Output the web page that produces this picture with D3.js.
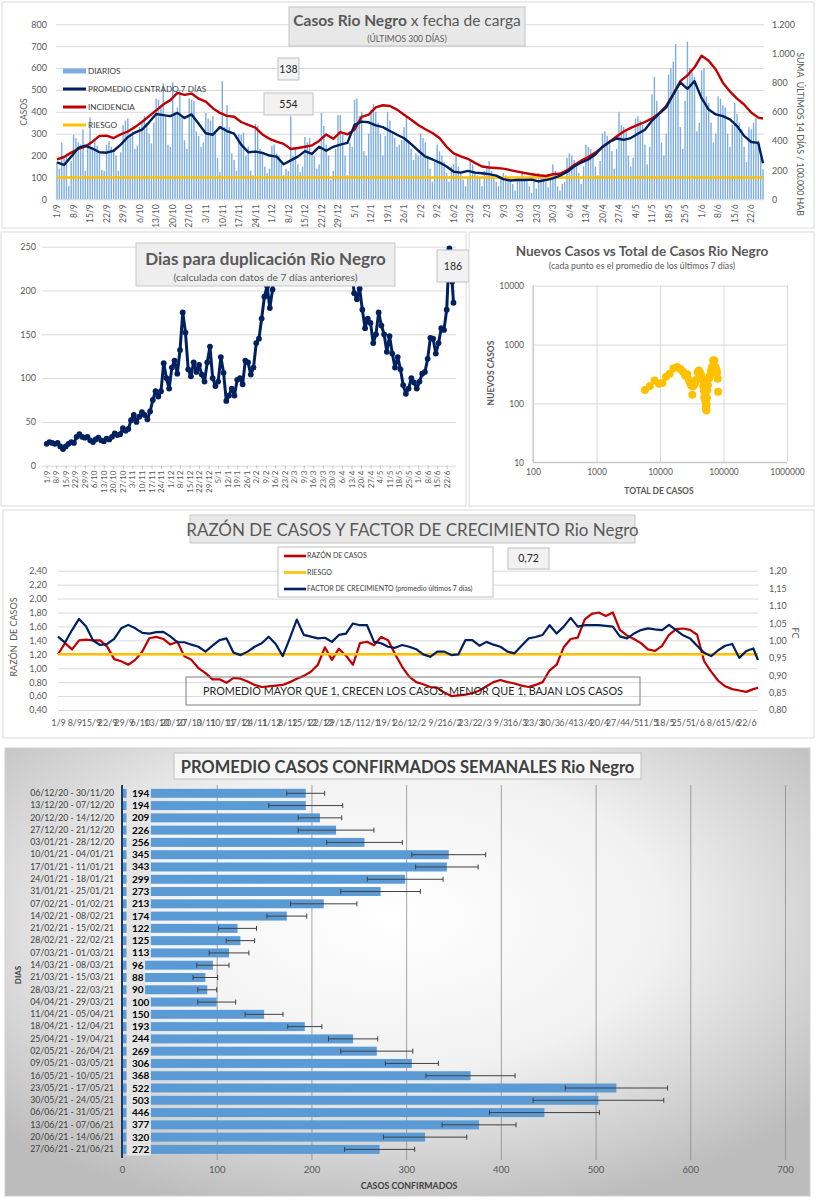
<!DOCTYPE html>
<html>
<head>
<meta charset="utf-8">
<script src="https://cdn.jsdelivr.net/npm/d3@7"></script>
<style>
  body { margin: 0; background: #fff; }
  svg { display: block; font-family: Lato, 'Open Sans', sans-serif; }
</style>
</head>
<body>
<svg id="chart" width="816" height="1200"></svg>
<script>
// etiquetas semanales del eje x (una cada 7 dias desde 1/9/2020)
var weekLabels = ['1/9','8/9','15/9','22/9','29/9','6/10','13/10','20/10','27/10','3/11','10/11','17/11','24/11',
  '1/12','8/12','15/12','22/12','29/12','5/1','12/1','19/1','26/1','2/2','9/2','16/2','23/2','2/3','9/3','16/3',
  '23/3','30/3','6/4','13/4','20/4','27/4','4/5','11/5','18/5','25/5','1/6','8/6','15/6','22/6'];

// casos diarios (300 dias, 1/9/2020 - 27/6/2021)
var dailyCases = [
  170,140,260,185,210,60,175, 295,280,260,250,320,130,240, 375,240,270,245,210,135,130,
  250,265,240,230,200,130,215, 340,360,370,300,310,230,245, 330,360,380,350,300,255,350,
  460,455,420,530,380,250,240, 535,400,420,500,380,270,230, 460,455,450,310,290,240,260,
  395,370,360,380,310,190,125, 540,330,430,330,210,180,130, 300,295,305,200,240,130,110,
  345,335,230,210,150,120,140, 245,250,210,200,170,110,140, 130,380,200,230,160,125,150,
  285,260,280,210,200,140,160, 395,335,250,200,90,130,230, 385,385,300,200,110,260,240,
  455,460,380,400,220,200,300, 410,435,400,350,300,200,290, 400,360,300,280,240,250,270,
  330,380,270,230,180,210,200, 300,280,260,200,140,80,170, 250,220,200,170,120,80,150,
  160,200,150,120,90,60,100, 180,160,130,110,100,60,130, 150,175,130,100,80,60,95,
  120,110,100,95,70,40,95, 100,120,95,90,60,30,110, 50,120,110,100,80,55,95,
  160,130,60,40,70,80,190, 210,200,180,160,120,70,150, 250,240,230,200,150,110,175,
  300,310,290,260,220,140,230, 400,340,330,310,200,150,190, 370,380,360,340,250,160,240,
  480,560,450,380,260,200,300, 570,600,630,710,500,330,230, 450,720,600,580,560,310,350,
  590,600,470,440,350,260,300, 470,460,430,420,300,240,340, 440,390,350,320,240,170,330,
  320,350,370,270,190,138];

// promedio centrado 7 dias, un valor cada 3 dias (el ultimo es 27/6)
var avgCases = [169,157,195,235,245,232,215,213,222,250, 285,305,318,352,390,385,380,395,372,388,
  345,302,295,330,312,300,250,215,218,212, 200,195,160,178,195,220,208,240,222,240,
  250,258,340,355,352,338,330,312,295,279, 252,222,195,182,168,150,126,122,130,122,
  119,115,108,92,86,88,88,90,82,88, 96,108,125,150,168,182,205,240,262,278,
  272,280,300,318,360,390,420,480,535,505, 540,462,410,388,380,365,335,290,262,258, 165];

// incidencia: suma ultimos 14 dias / 100.000 hab, un valor cada 3 dias
var incidence = [274,290,320,345,362,395,435,436,420,445, 465,495,530,570,610,650,680,730,716,725,
  690,670,625,592,572,566,530,510,492,445, 415,395,380,345,352,360,370,400,445,415,
  460,445,478,565,580,630,645,640,615,580, 545,510,480,455,420,360,315,295,278,250,
  225,218,215,210,200,190,180,172,165,160, 172,175,198,235,265,290,320,358,395,430,
  465,490,510,530,555,590,640,720,810,850, 905,985,950,890,800,740,690,650,595,560, 554];
var riesgoIncidencia = 150;

// dias para duplicacion, un valor cada 2 dias
var dupDays = [25,27,26,25,26,22,19,22,25,27, 26,33,36,33,32,33,29,27,30,32,
  29,28,31,30,33,37,35,36,43,40, 42,52,58,50,56,61,58,53,62,75,
  85,79,85,117,100,88,112,120,105,132, 175,152,110,102,118,107,115,104,96,118,
  136,100,91,96,124,106,74,80,88,80, 98,100,93,120,118,104,112,140,145,168,
  193,205,180,201,240,280,320,360,390,420, 450,480,500,530,560,580,600,620,640,650,
  660,640,620,590,550,500,450,400,350,310, 280,250,225,197,190,202,178,157,168,163,
  140,150,175,160,150,130,148,128,112,124, 110,92,82,88,100,95,88,96,105,107,
  122,146,145,128,140,157,155,178,248,210, 186];

// nuevos casos (promedio 7 dias) vs total acumulado, un punto cada 6 dias
var scatterTotal = [5800,6890,8210,9590,10900,12420,14220,16350,18660,20910, 23060,24980,26800,28490,29890,31140,32220,33290,34490,35780,
  37200,38970,41040,43090,44960,46600,47940,49020,49910,50670, 51420,52100,52680,53200,53710,54240,54900,55780,56900,58290,
  59900,61610,63590,65930,68790,72020,74870,77240,79380,81170, 82230];
var scatterNew = [169,195,245,215,222,285,318,395,415,385, 345,295,312,250,218,200,140,195,208,222,
  250,340,362,330,295,252,195,168,126,130, 119,108,86,80,76,96,125,168,205,262,
  272,300,360,420,540,535,410,380,335,262, 158];

// razon de casos y factor de crecimiento, un valor cada 3 dias
var razon = [1.20,1.36,1.27,1.40,1.41,1.40,1.40,1.31,1.13,1.10, 1.05,1.12,1.24,1.43,1.45,1.42,1.34,1.38,1.17,1.12,
  1.00,0.93,0.84,0.84,0.79,0.86,0.85,0.81,0.76,0.73, 0.74,0.75,0.76,0.80,0.85,0.89,0.95,1.05,1.30,1.12,
  1.28,1.18,1.05,1.36,1.38,1.33,1.45,1.40,1.20,1.02, 0.88,0.80,0.77,0.73,0.72,0.65,0.60,0.61,0.62,0.64,
  0.68,0.74,0.80,0.83,0.80,0.78,0.75,0.73,0.76,0.80, 0.97,1.05,1.30,1.42,1.44,1.70,1.78,1.80,1.75,1.80,
  1.55,1.47,1.42,1.36,1.27,1.25,1.32,1.48,1.56,1.57, 1.55,1.48,1.10,0.95,0.82,0.74,0.70,0.68,0.66,0.70, 0.72];
var factor = [1.011,0.994,1.030,1.062,1.040,1.000,0.987,0.990,1.005,1.035, 1.045,1.035,1.022,1.020,1.024,1.025,1.012,0.995,0.995,0.988,
  0.982,0.968,0.985,1.001,1.006,0.965,0.958,0.968,0.982,0.992, 1.011,0.990,0.955,1.006,1.060,1.016,1.011,1.006,1.008,0.996,
  1.016,1.020,1.049,1.044,1.044,0.996,0.992,0.982,0.979,0.987, 0.982,0.975,0.960,0.953,0.968,0.968,0.958,0.960,1.001,1.001,
  0.985,0.996,0.988,0.982,0.968,0.963,0.985,1.006,1.010,1.016, 1.044,1.020,1.040,1.065,1.040,1.044,1.044,1.044,1.042,1.040,
  1.012,1.006,1.020,1.030,1.035,1.032,1.030,1.045,1.030,1.015, 1.006,0.985,0.965,0.955,0.972,0.985,0.990,0.950,0.970,0.977, 0.944];
var riesgoRazon = 1.2;

// promedio semanal de casos confirmados
var weekRanges = ['06/12/20 - 30/11/20','13/12/20 - 07/12/20','20/12/20 - 14/12/20','27/12/20 - 21/12/20',
  '03/01/21 - 28/12/20','10/01/21 - 04/01/21','17/01/21 - 11/01/21','24/01/21 - 18/01/21','31/01/21 - 25/01/21',
  '07/02/21 - 01/02/21','14/02/21 - 08/02/21','21/02/21 - 15/02/21','28/02/21 - 22/02/21','07/03/21 - 01/03/21',
  '14/03/21 - 08/03/21','21/03/21 - 15/03/21','28/03/21 - 22/03/21','04/04/21 - 29/03/21','11/04/21 - 05/04/21',
  '18/04/21 - 12/04/21','25/04/21 - 19/04/21','02/05/21 - 26/04/21','09/05/21 - 03/05/21','16/05/21 - 10/05/21',
  '23/05/21 - 17/05/21','30/05/21 - 24/05/21','06/06/21 - 31/05/21','13/06/21 - 07/06/21','20/06/21 - 14/06/21',
  '27/06/21 - 21/06/21'];
var weekAvg = [194,194,209,226,256,345,343,299,273,213,174,122,125,113,96,88,90,100,150,193,244,269,306,368,522,503,446,377,320,272];
var weekErr = [20,39,23,40,40,39,33,40,42,35,21,20,15,21,17,13,10,20,20,18,26,38,28,47,54,69,58,39,44,37];

var lastDay = dailyCases.length - 1;
function stepDay(i, step) { return Math.min(i * step, lastDay); }
var tickDays = weekLabels.map(function(d, i) { return i * 7; });

var loc = d3.formatLocale({ decimal: ',', thousands: '.', grouping: [3], currency: ['$', ''] });
var fmtMiles = loc.format(',d');
var fmtDec = loc.format('.2f');

var gray = '#595959';
var navy = '#002060';
var red = '#c00000';
var yellow = '#ffc000';

var svg = d3.select('#chart');
var defs = svg.append('defs');

function styleAxis(g, size, color) {
  g.attr('font-family', null).attr('font-size', size).style('color', color);
  g.select('.domain').remove();
}
function grid(g, color) {
  g.select('.domain').remove();
  g.style('color', color);
}
function rotateTicks(g, off) {
  g.selectAll('text').attr('y', 0).attr('x', -off).attr('dy', '0.32em')
    .attr('transform', 'rotate(-90)').attr('text-anchor', 'end');
}
function frame(x, y, w, h) {
  return svg.append('rect').attr('x', x).attr('y', y).attr('width', w).attr('height', h)
    .attr('fill', '#fff').attr('stroke', '#d9d9d9');
}
function valueBox(x, y, w, h, txt) {
  svg.append('rect').attr('x', x).attr('y', y).attr('width', w).attr('height', h)
    .attr('fill', '#f2f2f2').attr('stroke', '#bfbfbf');
  svg.append('text').attr('x', x + w / 2).attr('y', y + h / 2).attr('dy', '0.35em')
    .attr('text-anchor', 'middle').attr('font-size', 10.5).attr('fill', '#262626').text(txt);
}

// ================= 1. casos diarios =================
frame(2, 2, 812, 226);

var x1 = d3.scaleLinear().domain([0, lastDay]).range([57, 763]);
var y1 = d3.scaleLinear().domain([0, 800]).range([199.3, 24.3]);
var y1r = d3.scaleLinear().domain([0, 1200]).range([199.3, 24.3]);

svg.append('g').attr('transform', 'translate(56,0)')
  .call(d3.axisLeft(y1).tickValues(d3.range(0, 801, 100)).tickSize(-708).tickFormat(''))
  .call(function(g) { grid(g, '#d9d9d9'); });

svg.append('g').attr('transform', 'translate(47,0)')
  .call(d3.axisLeft(y1).tickValues(d3.range(0, 801, 100)).tickSize(0).tickPadding(0))
  .call(function(g) { styleAxis(g, 9, gray); });

svg.append('g').attr('transform', 'translate(772,0)')
  .call(d3.axisRight(y1r).tickValues(d3.range(0, 1201, 200)).tickFormat(fmtMiles).tickSize(0).tickPadding(0))
  .call(function(g) { styleAxis(g, 9, gray); });

svg.append('g').attr('transform', 'translate(0,199.3)')
  .call(d3.axisBottom(x1).tickValues(tickDays).tickFormat(function(d, i) { return weekLabels[i]; }).tickSize(0))
  .call(function(g) { styleAxis(g, 8.5, gray); rotateTicks(g, 5); });

svg.append('g').selectAll('rect').data(dailyCases).enter().append('rect')
  .attr('x', function(d, i) { return x1(i) - 0.7; })
  .attr('width', 1.4)
  .attr('y', function(d) { return y1(d); })
  .attr('height', function(d) { return y1(0) - y1(d); })
  .attr('fill', '#7eaee0');

svg.append('line').attr('x1', x1(0)).attr('x2', x1(lastDay))
  .attr('y1', y1r(riesgoIncidencia)).attr('y2', y1r(riesgoIncidencia))
  .attr('stroke', yellow).attr('stroke-width', 2.6);

svg.append('path').datum(incidence)
  .attr('d', d3.line().x(function(d, i) { return x1(stepDay(i, 3)); }).y(function(d) { return y1r(d); }))
  .attr('fill', 'none').attr('stroke', red).attr('stroke-width', 2.4).attr('stroke-linejoin', 'round');

svg.append('path').datum(avgCases)
  .attr('d', d3.line().x(function(d, i) { return x1(stepDay(i, 3)); }).y(function(d) { return y1(d); }))
  .attr('fill', 'none').attr('stroke', navy).attr('stroke-width', 2.4).attr('stroke-linejoin', 'round');

var legend1 = [
  { name: 'DIARIOS', color: '#7eaee0', bar: true },
  { name: 'PROMEDIO CENTRADO 7 DÍAS', color: navy },
  { name: 'INCIDENCIA', color: red },
  { name: 'RIESGO', color: yellow }
];
var lg1 = svg.append('g').selectAll('g').data(legend1).enter().append('g')
  .attr('transform', function(d, i) { return 'translate(63,' + (71 + i * 18) + ')'; });
lg1.append('rect').attr('x', 0).attr('width', 23)
  .attr('y', function(d) { return d.bar ? -2.5 : -1.5; })
  .attr('height', function(d) { return d.bar ? 5 : 3; })
  .attr('fill', function(d) { return d.color; });
lg1.append('text').attr('x', 25).attr('dy', '0.35em').attr('font-size', 8.2).attr('fill', '#404040')
  .text(function(d) { return d.name; });

svg.append('text').attr('transform', 'translate(27,112) rotate(-90)').attr('text-anchor', 'middle')
  .attr('font-size', 8.5).attr('fill', gray).text('CASOS');
svg.append('text').attr('transform', 'translate(800,134) rotate(90)').attr('text-anchor', 'middle')
  .attr('dy', '0.35em').attr('font-size', 8.8).attr('fill', gray).attr('xml:space', 'preserve')
  .text('SUMA  ÚLTIMOS 14 DÍAS / 100.000 HAB');

svg.append('rect').attr('x', 289).attr('y', 7).attr('width', 236).attr('height', 39)
  .attr('fill', '#e8e8e8').attr('stroke', '#c4c4c4');
var t1 = svg.append('text').attr('x', 407).attr('y', 26).attr('text-anchor', 'middle')
  .attr('font-size', 15.5).attr('fill', gray);
t1.append('tspan').attr('font-weight', 'bold').text('Casos Rio Negro');
t1.append('tspan').text(' x fecha de carga');
svg.append('text').attr('x', 407).attr('y', 41.5).attr('text-anchor', 'middle')
  .attr('font-size', 8.5).attr('fill', gray).text('(ÚLTIMOS 300 DÍAS)');

valueBox(278, 58, 21, 22, dailyCases[lastDay]);
valueBox(264, 93, 49, 22, incidence[incidence.length - 1]);

// ================= 2. dias para duplicacion =================
frame(1, 232, 465, 274);

var x2 = d3.scaleLinear().domain([0, 294]).range([46.7, 446.7]);
var y2 = d3.scaleLinear().domain([0, 250]).range([465.7, 246.7]);

svg.append('g').attr('transform', 'translate(42,0)')
  .call(d3.axisLeft(y2).tickValues(d3.range(0, 251, 50)).tickSize(-414).tickFormat(''))
  .call(function(g) { grid(g, '#d9d9d9'); });

svg.append('g').attr('transform', 'translate(36,0)')
  .call(d3.axisLeft(y2).tickValues(d3.range(0, 251, 50)).tickSize(0).tickPadding(0))
  .call(function(g) { styleAxis(g, 9, gray); });

svg.append('g').attr('transform', 'translate(0,465.7)')
  .call(d3.axisBottom(x2).tickValues(tickDays).tickFormat(function(d, i) { return weekLabels[i]; }).tickSize(3))
  .call(function(g) {
    styleAxis(g, 8, gray);
    g.selectAll('line').attr('stroke', '#bfbfbf');
    rotateTicks(g, 5);
  });

defs.append('clipPath').attr('id', 'clip2').append('rect')
  .attr('x', 40).attr('y', 244).attr('width', 425).attr('height', 230);

var dupG = svg.append('g').attr('clip-path', 'url(#clip2)');
dupG.append('path').datum(dupDays)
  .attr('d', d3.line().x(function(d, i) { return x2(stepDay(i, 2)); }).y(function(d) { return y2(d); }))
  .attr('fill', 'none').attr('stroke', navy).attr('stroke-width', 3).attr('stroke-linejoin', 'round');
dupG.selectAll('circle').data(dupDays).enter().append('circle')
  .attr('cx', function(d, i) { return x2(stepDay(i, 2)); })
  .attr('cy', function(d) { return y2(d); })
  .attr('r', 2.9).attr('fill', navy);

svg.append('rect').attr('x', 136).attr('y', 243).attr('width', 259).attr('height', 43)
  .attr('fill', '#eeeeee').attr('stroke', '#c8c8c8');
svg.append('text').attr('x', 265.5).attr('y', 264.5).attr('text-anchor', 'middle')
  .attr('font-size', 17).attr('font-weight', 'bold').attr('fill', gray).text('Dias para duplicación Rio Negro');
svg.append('text').attr('x', 265.5).attr('y', 281).attr('text-anchor', 'middle')
  .attr('font-size', 10.3).attr('fill', gray).text('(calculada con datos de 7 días anteriores)');

valueBox(437, 250, 32, 32, dupDays[dupDays.length - 1]);

// ================= 3. nuevos vs total =================
frame(469, 232, 345, 274);

var x3 = d3.scaleLog().domain([100, 1e6]).range([533, 787]);
var y3 = d3.scaleLog().domain([10, 1e4]).range([462.3, 285.7]);
var xDec = [100, 1000, 10000, 100000, 1000000];
var yDec = [10, 100, 1000, 10000];

svg.append('g').attr('transform', 'translate(533,0)')
  .call(d3.axisLeft(y3).tickValues(yDec).tickSize(-254).tickFormat(''))
  .call(function(g) { grid(g, '#d9d9d9'); });
svg.append('g').attr('transform', 'translate(0,285.7)')
  .call(d3.axisBottom(x3).tickValues(xDec).tickSize(176.6).tickFormat(''))
  .call(function(g) { grid(g, '#d9d9d9'); });
svg.append('line').attr('x1', 533).attr('x2', 787).attr('y1', 462.3).attr('y2', 462.3).attr('stroke', '#bfbfbf');
svg.append('line').attr('x1', 533).attr('x2', 533).attr('y1', 285.7).attr('y2', 462.3).attr('stroke', '#bfbfbf');

svg.append('g').attr('transform', 'translate(524,0)')
  .call(d3.axisLeft(y3).tickValues(yDec).tickFormat(d3.format('d')).tickSize(0).tickPadding(0))
  .call(function(g) { styleAxis(g, 8.5, gray); });
svg.append('g').attr('transform', 'translate(0,469)')
  .call(d3.axisBottom(x3).tickValues(xDec).tickFormat(d3.format('d')).tickSize(0).tickPadding(0))
  .call(function(g) { styleAxis(g, 8.5, gray); });

svg.append('g').selectAll('circle').data(scatterNew).enter().append('circle')
  .attr('cx', function(d, i) { return x3(scatterTotal[i]); })
  .attr('cy', function(d) { return y3(d); })
  .attr('r', 4).attr('fill', yellow);

svg.append('text').attr('x', 642).attr('y', 256).attr('text-anchor', 'middle')
  .attr('font-size', 13.5).attr('font-weight', 'bold').attr('fill', gray).text('Nuevos Casos vs Total de Casos Rio Negro');
svg.append('text').attr('x', 642).attr('y', 269).attr('text-anchor', 'middle')
  .attr('font-size', 8.8).attr('fill', gray).text('(cada punto es el promedio de los últimos 7 días)');
svg.append('text').attr('transform', 'translate(494,373) rotate(-90)').attr('text-anchor', 'middle')
  .attr('font-size', 8.5).attr('font-weight', 'bold').attr('fill', gray).text('NUEVOS  CASOS');
svg.append('text').attr('x', 659).attr('y', 494).attr('text-anchor', 'middle')
  .attr('font-size', 8.5).attr('font-weight', 'bold').attr('fill', gray).text('TOTAL DE CASOS');

// ================= 4. razon de casos y factor de crecimiento =================
frame(3, 510, 811, 228);

var x4 = d3.scaleLinear().domain([0, lastDay]).range([58, 758]);
var y4 = d3.scaleLinear().domain([0.4, 2.4]).range([710, 570.7]);
var y4r = d3.scaleLinear().domain([0.8, 1.2]).range([710, 571]);

svg.append('g').attr('transform', 'translate(58,0)')
  .call(d3.axisLeft(y4).tickValues(d3.range(0, 11).map(function(i) { return 0.4 + i * 0.2; })).tickSize(-700).tickFormat(''))
  .call(function(g) { grid(g, '#d9d9d9'); });

svg.append('g').attr('transform', 'translate(47,0)')
  .call(d3.axisLeft(y4).tickValues(d3.range(0, 11).map(function(i) { return 0.4 + i * 0.2; })).tickFormat(fmtDec).tickSize(0).tickPadding(0))
  .call(function(g) { styleAxis(g, 9, gray); });
svg.append('g').attr('transform', 'translate(769,0)')
  .call(d3.axisRight(y4r).tickValues(d3.range(0, 9).map(function(i) { return 0.8 + i * 0.05; })).tickFormat(fmtDec).tickSize(0).tickPadding(0))
  .call(function(g) { styleAxis(g, 9, gray); });

svg.append('g').attr('transform', 'translate(0,719.5)')
  .call(d3.axisBottom(x4).tickValues(tickDays).tickFormat(function(d, i) { return weekLabels[i]; }).tickSize(0).tickPadding(0))
  .call(function(g) { styleAxis(g, 9, gray); });

svg.append('path').datum(razon)
  .attr('d', d3.line().x(function(d, i) { return x4(stepDay(i, 3)); }).y(function(d) { return y4(d); }))
  .attr('fill', 'none').attr('stroke', red).attr('stroke-width', 2.2).attr('stroke-linejoin', 'round');
svg.append('line').attr('x1', x4(0)).attr('x2', x4(lastDay))
  .attr('y1', y4(riesgoRazon)).attr('y2', y4(riesgoRazon))
  .attr('stroke', yellow).attr('stroke-width', 2.4);
svg.append('path').datum(factor)
  .attr('d', d3.line().x(function(d, i) { return x4(stepDay(i, 3)); }).y(function(d) { return y4r(d); }))
  .attr('fill', 'none').attr('stroke', navy).attr('stroke-width', 2.2).attr('stroke-linejoin', 'round');

svg.append('rect').attr('x', 190).attr('y', 515).attr('width', 445).attr('height', 28)
  .attr('fill', '#e8e8e8').attr('stroke', '#c8c8c8');
svg.append('text').attr('x', 412.5).attr('y', 536).attr('text-anchor', 'middle')
  .attr('font-size', 17).attr('fill', gray).text('RAZÓN DE CASOS Y FACTOR DE CRECIMIENTO Rio Negro');

svg.append('rect').attr('x', 278).attr('y', 547).attr('width', 215).attr('height', 50)
  .attr('fill', '#fff').attr('stroke', '#bfbfbf');
var legend4 = [
  { name: 'RAZÓN DE CASOS', color: red },
  { name: 'RIESGO', color: yellow },
  { name: 'FACTOR DE CRECIMIENTO (promedio últimos 7 días)', color: navy }
];
var lg4 = svg.append('g').selectAll('g').data(legend4).enter().append('g')
  .attr('transform', function(d, i) { return 'translate(284,' + (556 + i * 16.5) + ')'; });
lg4.append('rect').attr('y', -1.3).attr('width', 22).attr('height', 2.6).attr('fill', function(d) { return d.color; });
lg4.append('text').attr('x', 23).attr('dy', '0.35em').attr('font-size', 7).attr('fill', '#404040')
  .text(function(d) { return d.name; });

valueBox(508, 548, 41, 21, fmtDec(razon[razon.length - 1]));

svg.append('rect').attr('x', 186).attr('y', 677).attr('width', 454).attr('height', 28)
  .attr('fill', 'none').attr('stroke', '#7f7f7f');
svg.append('text').attr('x', 413).attr('y', 695).attr('text-anchor', 'middle')
  .attr('font-size', 10.8).attr('fill', '#262626').text('PROMEDIO MAYOR QUE 1, CRECEN LOS CASOS, MENOR QUE 1, BAJAN LOS CASOS');

svg.append('text').attr('transform', 'translate(17,637) rotate(-90)').attr('text-anchor', 'middle')
  .attr('font-size', 9).attr('fill', gray).attr('xml:space', 'preserve').text('RAZÓN  DE CASOS');
svg.append('text').attr('transform', 'translate(795,633) rotate(90)').attr('text-anchor', 'middle')
  .attr('dy', '0.35em').attr('font-size', 9).attr('fill', gray).text('FC');

// ================= 5. promedio semanal =================
var bg = defs.append('radialGradient').attr('id', 'bg5').attr('cx', '48%').attr('cy', '38%').attr('r', '68%');
bg.append('stop').attr('offset', '0%').attr('stop-color', '#ffffff');
bg.append('stop').attr('offset', '50%').attr('stop-color', '#f1f1f1');
bg.append('stop').attr('offset', '100%').attr('stop-color', '#bcbcbc');
svg.append('rect').attr('x', 5).attr('y', 748).attr('width', 805).attr('height', 448)
  .attr('fill', 'url(#bg5)').attr('stroke', '#d0d0d0');

var x5 = d3.scaleLinear().domain([0, 700]).range([122, 785]);
var y5 = d3.scaleBand().domain(weekRanges).range([785.5, 1157.2]).padding(0.27);
var rowStep = y5.step();

svg.append('g').attr('transform', 'translate(0,785)')
  .call(d3.axisBottom(x5).tickValues(d3.range(100, 701, 100)).tickSize(375).tickFormat(''))
  .call(function(g) { grid(g, '#8c8c8c'); g.selectAll('line').attr('stroke-width', 0.8); });

svg.append('g').attr('transform', 'translate(0,1166)')
  .call(d3.axisBottom(x5).tickValues(d3.range(0, 701, 100)).tickSize(0).tickPadding(0))
  .call(function(g) { styleAxis(g, 9.5, gray); });

svg.append('g').attr('transform', 'translate(114,0)')
  .call(d3.axisLeft(y5).tickSize(0).tickPadding(0))
  .call(function(g) { styleAxis(g, 8.7, '#404040'); });

svg.append('g').selectAll('rect').data(weekAvg).enter().append('rect')
  .attr('x', x5(0))
  .attr('y', function(d, i) { return y5(weekRanges[i]); })
  .attr('width', function(d) { return x5(d) - x5(0); })
  .attr('height', y5.bandwidth())
  .attr('fill', '#5b9bd5');

var err = svg.append('g').attr('stroke', '#404040').attr('stroke-width', 1);
weekAvg.forEach(function(v, i) {
  var cy = y5(weekRanges[i]) + y5.bandwidth() / 2;
  var lo = x5(v - weekErr[i]), hi = x5(v + weekErr[i]);
  err.append('line').attr('x1', lo).attr('x2', hi).attr('y1', cy).attr('y2', cy);
  err.append('line').attr('x1', lo).attr('x2', lo).attr('y1', cy - 2.5).attr('y2', cy + 2.5);
  err.append('line').attr('x1', hi).attr('x2', hi).attr('y1', cy - 2.5).attr('y2', cy + 2.5);
});

var vl = svg.append('g').selectAll('g').data(weekAvg).enter().append('g')
  .attr('transform', function(d, i) { return 'translate(0,' + (y5(weekRanges[i]) + y5.bandwidth() / 2) + ')'; });
vl.append('rect').attr('class', 'lbg').attr('x', 126.5).attr('y', -rowStep / 2).attr('height', rowStep)
  .attr('fill', '#e4e4e4');
vl.append('text').attr('x', 132).attr('dy', '0.35em').attr('font-size', 10).attr('font-weight', 'bold')
  .attr('fill', '#000').text(function(d) { return d; });
vl.each(function() {
  var g = d3.select(this);
  g.select('rect.lbg').attr('width', g.select('text').node().getComputedTextLength() + 7);
});

svg.append('line').attr('x1', x5(0)).attr('x2', x5(0)).attr('y1', 785).attr('y2', 1158)
  .attr('stroke', '#1f3864').attr('stroke-width', 2);

svg.append('rect').attr('x', 174).attr('y', 753).attr('width', 467).attr('height', 26)
  .attr('fill', '#f7f7f7').attr('stroke', '#c0c0c0');
svg.append('text').attr('x', 407.5).attr('y', 772.5).attr('text-anchor', 'middle')
  .attr('font-size', 16.5).attr('font-weight', 'bold').attr('fill', '#404040')
  .text('PROMEDIO CASOS CONFIRMADOS SEMANALES Rio Negro');
svg.append('text').attr('transform', 'translate(21,975) rotate(-90)').attr('text-anchor', 'middle')
  .attr('font-size', 8).attr('font-weight', 'bold').attr('fill', '#404040').text('DIAS');
svg.append('text').attr('x', 409).attr('y', 1189).attr('text-anchor', 'middle')
  .attr('font-size', 8.8).attr('font-weight', 'bold').attr('fill', '#404040').text('CASOS CONFIRMADOS');
</script>
</body>
</html>
